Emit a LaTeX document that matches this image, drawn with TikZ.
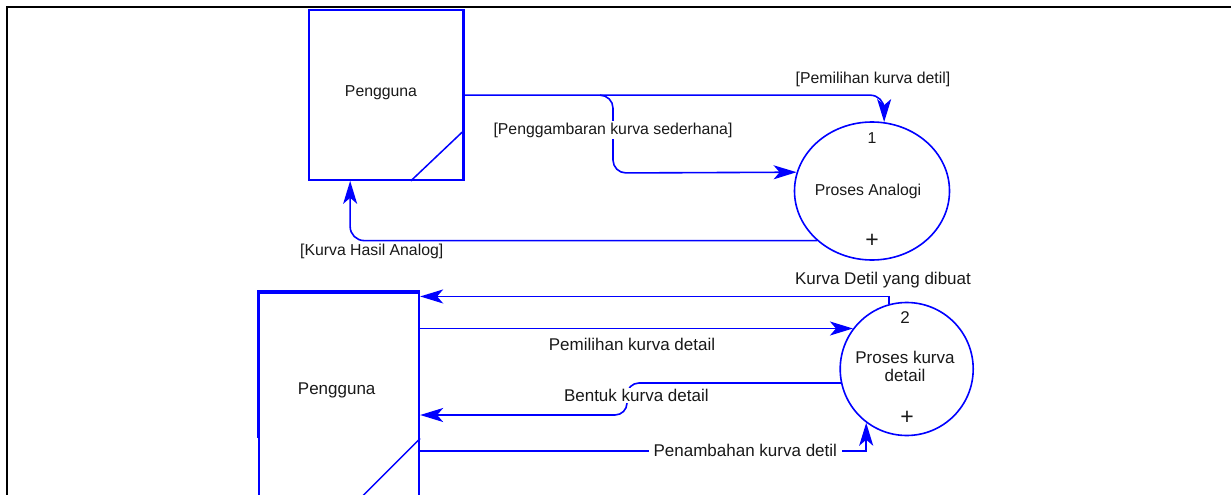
\documentclass[tikz,border=0pt]{standalone}
\usepackage{fontspec}
\setmainfont{Liberation Sans}
\usetikzlibrary{arrows.meta,calc,shapes.geometric}
\definecolor{fblue}{RGB}{0,0,255}
\definecolor{ftext}{RGB}{25,25,25}
\begin{document}
\begin{tikzpicture}[x=1pt,y=-1pt,
  ent/.style={draw=fblue, line width=1.7pt, rectangle, inner sep=0pt},
  proc/.style={draw=fblue, line width=1.6pt, ellipse, inner sep=0pt},
  flow/.style={draw=fblue, line width=1.6pt, -{Stealth[length=23pt,width=14pt,inset=6pt]}},
  lbla/.style={font=\fontsize{15.8}{18}\selectfont, text=ftext, fill=white, inner sep=2pt},
  lblb/.style={font=\fontsize{17}{20}\selectfont, text=ftext, fill=white, inner sep=2pt},
  txa/.style={font=\fontsize{15.8}{18}\selectfont, text=ftext, inner sep=0pt},
  txb/.style={font=\fontsize{17}{20}\selectfont, text=ftext, inner sep=0pt},
  plus/.style={font=\fontsize{23}{25}\selectfont, text=ftext, inner sep=0pt}]
\useasboundingbox (0,0) rectangle (1231,495);
\clip (0,0) rectangle (1231,495);
% frame
\draw[black, line width=2pt] (6.7,500) -- (6.7,6.7) -- (1235,6.7);

% ===== upper part =====
\node[ent, minimum width=153.7pt, minimum height=169.7pt] (u1) at (385.85,95.15) {};
\draw[fblue, line width=3.2pt] (u1.north east) -- (u1.south east);
\draw[fblue, line width=1.5pt] ($(u1.south east)+(-52.7,0)$) -- ($(u1.south east)+(0,-50)$);
\node[txa] (u1t) at (381,93) {Pengguna};

\node[proc, minimum width=155pt, minimum height=138pt] (p1) at (872,191) {};
\node[txa] (p1n) at (872,138) {1};
\node[txa] (p1t) at (868,191) {Proses Analogi};
\node[plus] (p1p) at (872,241) {+};

\coordinate (b1) at (600,95.15);
\coordinate (b2) at (613,173);
\draw[flow, rounded corners=14pt] (u1.east) -| (p1.80);
\draw[flow, rounded corners=13pt] (b1) -| (b2) -- (p1.166);
\draw[flow, rounded corners=14pt] (p1.222) -| ($(u1.south west)+(42,0)$);

\node[lbla] (la) at (873,79) {[Pemilihan kurva detil]};
\node[lbla] (lb) at (613,130) {[Penggambaran kurva sederhana]};
\node[lbla] (lc) at (371.7,251.7) {[Kurva Hasil Analog]};

% ===== lower part =====
\node[ent, minimum width=160.3pt, minimum height=217.3pt] (u2) at (339.15,401.35) {};
\draw[fblue, line width=3.2pt] (u2.north east) -- (u2.north west) -- ($(u2.north west)+(0,146.6)$);
\draw[fblue, line width=1.5pt] ($(u2.north east)+(0,146.6)$) -- ++(-75,75);
\node[txb] (u2t) at (336.7,390) {Pengguna};

\node[proc, circle, minimum size=133pt] (p2) at (906.7,369) {};
\node[txb] (p2n) at (905,318) {2};
\node[txb, align=center] (p2t) at (905,366.5) {Proses kurva\\[-1.5pt]detail};
\node[plus] (p2p) at (907,418) {+};

\coordinate (dtop) at ($(u2.north east)+(0,4.6)$);
\coordinate (bk) at (627,415);
\coordinate (gc) at (866.7,451);
\draw[flow] (p2.105) |- (dtop);
\draw[flow] (u2.east |- p2.143) -- (p2.143);
\draw[flow, rounded corners=12pt] (p2.192) -| (bk) -- (u2.east |- bk);
\draw[flow] (u2.east |- gc) -| (p2.233);

\node[txb] (ld) at (883,280) {Kurva Detil yang dibuat};
\node[txb] (le) at (632,344) {Pemilihan kurva detail};
\node[lblb, inner sep=1pt] (lf) at (636.3,395.7) {Bentuk kurva detail};
\node[lblb, inner xsep=5pt] (lg) at (745.3,450) {Penambahan kurva detil};
\end{tikzpicture}
\end{document}
